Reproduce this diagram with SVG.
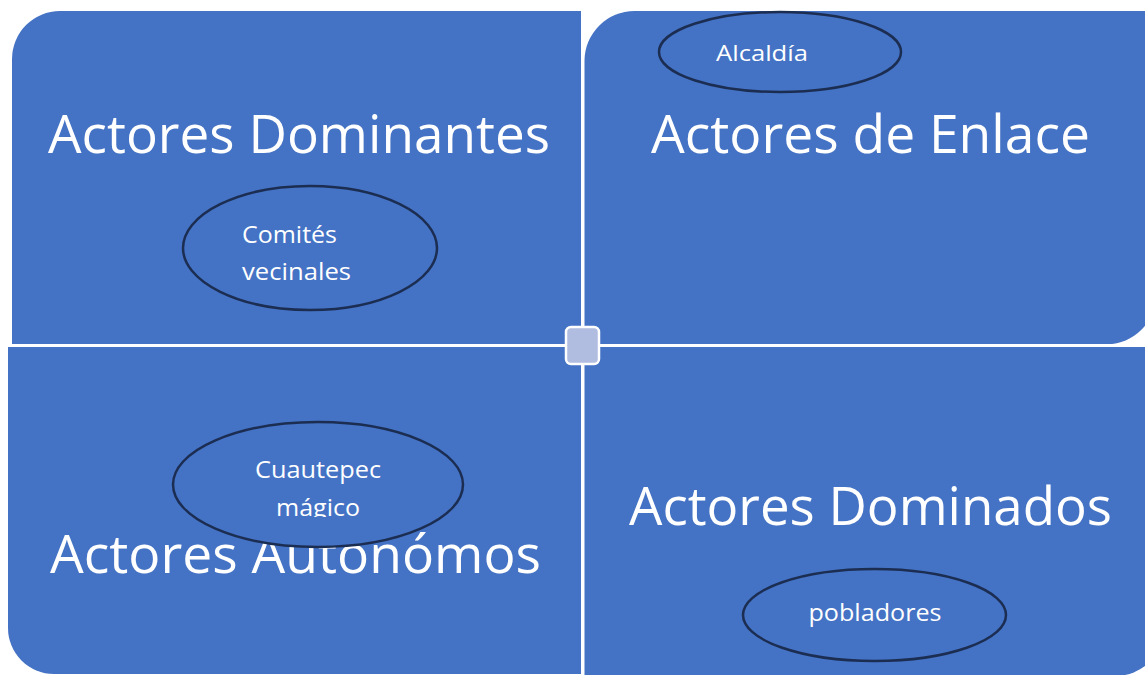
<svg xmlns="http://www.w3.org/2000/svg" width="1145" height="675" viewBox="0 0 1145 675">
  <defs>
    <style>
      .quad { fill: #4472C4; }
      .oval { fill: #4472C4; stroke: #1C2D52; stroke-width: 2.5; }
      .title { fill: #FFFFFF; font-family: "Open Sans", "Noto Sans", sans-serif; font-size: 53px; }
      .label { fill: #FFFFFF; font-family: "Open Sans", "Noto Sans", sans-serif; font-size: 24px; }
    </style>
    <clipPath id="clipCuautepec">
      <rect x="170" y="420" width="300" height="97"/>
    </clipPath>
  </defs>
  <rect width="1145" height="675" fill="#FFFFFF"/>

  <g id="quad-dominantes">
    <path class="quad" d="M12,59 A48,48 0 0 1 60,11 H581 V344 H12 Z"/>
    <text class="title" x="48" y="153" textLength="502" lengthAdjust="spacingAndGlyphs">Actores Dominantes</text>
  </g>
  <g id="quad-enlace">
    <path class="quad" d="M584.5,61 A50,50 0 0 1 634.5,11 H1155 V296.5 A47.5,47.5 0 0 1 1107.5,344 H584.5 Z"/>
    <text class="title" x="651" y="153" textLength="439" lengthAdjust="spacingAndGlyphs">Actores de Enlace</text>
  </g>
  <g id="quad-autonomos">
    <path class="quad" d="M8,347 H581 V674 H54 A46,46 0 0 1 8,628 Z"/>
    <text class="title" x="50" y="573" textLength="491" lengthAdjust="spacingAndGlyphs">Actores Autonómos</text>
  </g>
  <g id="quad-dominados">
    <path class="quad" d="M584.5,347 H1165 V626 A50,50 0 0 1 1115,676 H584.5 Z"/>
    <text class="title" x="629" y="525" textLength="483" lengthAdjust="spacingAndGlyphs">Actores Dominados</text>
  </g>

  <g id="center-square">
    <rect x="566" y="327" width="33" height="37" rx="5" ry="5" fill="#B0BCE0" stroke="#FFFFFF" stroke-width="2.5"/>
  </g>

  <g id="node-alcaldia">
    <ellipse class="oval" cx="780" cy="52" rx="121" ry="40"/>
    <text class="label" x="716" y="61" textLength="92" lengthAdjust="spacingAndGlyphs" style="font-size:21px">Alcaldía</text>
  </g>
  <g id="node-comites">
    <ellipse class="oval" cx="310" cy="248" rx="127" ry="62"/>
    <text class="label" x="242" y="243" textLength="95" lengthAdjust="spacingAndGlyphs">Comités</text>
    <text class="label" x="242" y="280" textLength="109" lengthAdjust="spacingAndGlyphs">vecinales</text>
  </g>
  <g id="node-cuautepec">
    <ellipse class="oval" cx="318" cy="484.5" rx="145" ry="62.5"/>
    <g clip-path="url(#clipCuautepec)">
      <text class="label" x="318" y="478" text-anchor="middle" textLength="126" lengthAdjust="spacingAndGlyphs">Cuautepec</text>
      <text class="label" x="318" y="516" text-anchor="middle" textLength="84" lengthAdjust="spacingAndGlyphs">mágico</text>
    </g>
  </g>
  <g id="node-pobladores">
    <ellipse class="oval" cx="874.5" cy="615" rx="131.5" ry="46"/>
    <text class="label" x="875" y="621" text-anchor="middle" textLength="133" lengthAdjust="spacingAndGlyphs">pobladores</text>
  </g>

  <g id="connectors"></g>
</svg>
